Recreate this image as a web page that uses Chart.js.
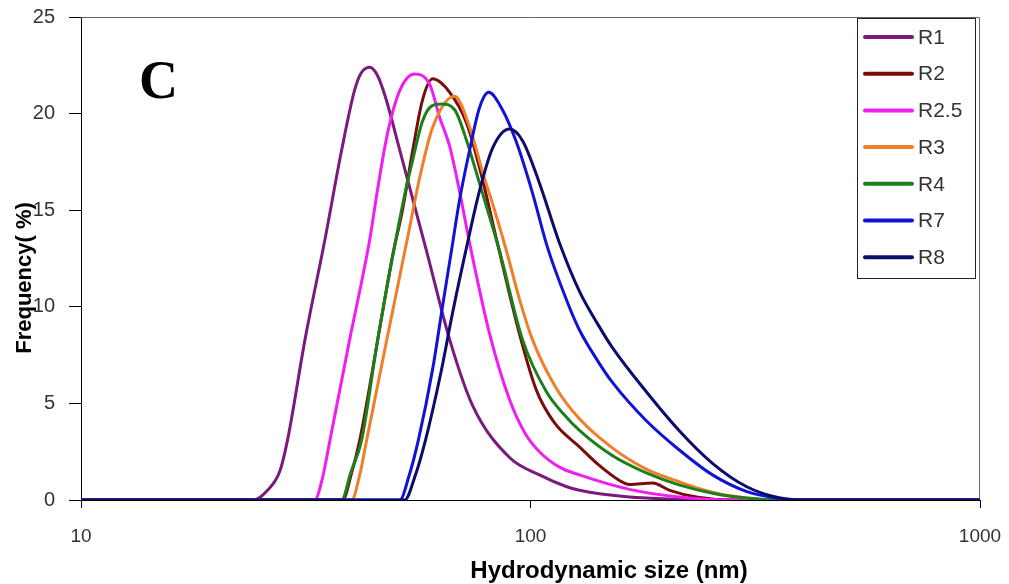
<!DOCTYPE html>
<html>
<head>
<meta charset="utf-8">
<script src="https://cdn.jsdelivr.net/npm/chart.js@4.4.0/dist/chart.umd.min.js"></script>
<style>
  html, body { margin: 0; padding: 0; background: #fff; }
</style>
</head>
<body>
<canvas id="sizeChart" width="1009" height="584"></canvas>
<script>
// Values (size in nm, frequency in %)
const seriesNames = ['R1', 'R2', 'R2.5', 'R3', 'R4', 'R7', 'R8'];
const seriesColors = ['#7a1a7c', '#7b0c0c', '#f01ef0', '#f07f2c', '#1c7f1c', '#1212d6', '#0c0c6c'];

const r1Size = [10, 24.2, 26.0, 27.7, 28.8, 31.5, 34.9, 38.0, 40.6, 42.0, 43.9, 45.6, 47.5, 51.2, 58.7, 66.1, 74.3, 89.8, 104.7, 120, 128.5, 166, 214, 277, 1000];
const r1Freq = [0, 0, 0.5, 1.5, 3.1, 8.3, 13.5, 18.1, 21.2, 22.1, 22.4, 22.0, 20.9, 18.1, 12.9, 8.3, 4.9, 2.2, 1.3, 0.7, 0.5, 0.15, 0.04, 0, 0];

const r2Size = [10, 38.2, 40.0, 41.7, 45.5, 49.3, 51.9, 54.7, 57.5, 60.6, 66.1, 72.1, 77.8, 84.0, 94.5, 103, 113, 128.5, 142, 158, 166, 187, 204, 234, 277, 1000];
const r2Freq = [0, 0, 1.4, 3.1, 8.0, 12.6, 15.0, 18.1, 20.7, 21.8, 21.1, 19.5, 16.8, 13.5, 8.6, 5.7, 4.0, 2.75, 1.8, 1.0, 0.8, 0.88, 0.5, 0.15, 0, 0];

const r25Size = [10, 33.1, 34.5, 35.8, 39.6, 43.9, 45.7, 48.1, 51.2, 55.2, 59.7, 62.8, 66.1, 69.5, 73.2, 81.1, 89.8, 97.0, 104.7, 116, 128.5, 166, 214, 277, 1000];
const r25Freq = [0, 0, 1.2, 3.1, 8.3, 13.5, 16.1, 19.0, 21.2, 22.05, 21.5, 19.8, 18.3, 16.0, 13.3, 8.6, 5.2, 3.5, 2.5, 1.7, 1.3, 0.55, 0.15, 0, 0];

const r3Size = [10, 40.0, 41.7, 43.2, 47.9, 53.3, 56.7, 60.6, 67.8, 73.2, 78.2, 83.2, 88.4, 94.5, 101, 114, 128.5, 152, 181, 214, 254, 302, 357, 1000];
const r3Freq = [0, 0, 1.3, 3.1, 8.3, 13.6, 16.7, 19.3, 20.9, 19.3, 17.0, 15.0, 12.9, 10.4, 8.3, 5.8, 4.2, 2.7, 1.6, 0.95, 0.4, 0.1, 0, 0];

const r4Size = [10, 38.0, 39.8, 42.1, 45.7, 49.9, 52.5, 54.7, 57.5, 60.3, 63.4, 67.8, 72.1, 77.0, 85.3, 96.0, 108.5, 119, 128.5, 152, 181, 214, 254, 302, 357, 1000];
const r4Freq = [0, 0, 1.4, 3.1, 8.3, 13.2, 15.8, 17.6, 19.6, 20.4, 20.5, 20.2, 18.6, 16.4, 12.9, 8.3, 5.6, 4.4, 3.6, 2.3, 1.4, 0.78, 0.35, 0.1, 0, 0];

const r7Size = [10, 51.2, 53.6, 56.3, 60.6, 63.7, 66.7, 69.5, 73.2, 77.0, 80.7, 86.6, 93.1, 101, 109, 121, 128.5, 142, 152, 181, 214, 254, 302, 357, 396, 1000];
const r7Freq = [0, 0, 1.2, 3.1, 6.8, 10.0, 12.9, 15.5, 18.1, 20.3, 21.1, 20.2, 18.5, 15.9, 13.1, 10.2, 8.8, 7.1, 6.1, 4.1, 2.6, 1.3, 0.45, 0.08, 0, 0];

const r8Size = [10, 52.5, 55.3, 58.4, 63.2, 67.1, 72.1, 77.0, 82.3, 89.8, 96.0, 104.7, 116, 128.5, 142, 152, 181, 214, 254, 302, 357, 417, 1000];
const r8Freq = [0, 0, 1.2, 3.1, 6.6, 9.7, 13.1, 16.0, 18.2, 19.2, 18.6, 16.4, 13.3, 10.8, 9.0, 7.9, 5.6, 3.6, 1.9, 0.7, 0.12, 0, 0];

const xTicks = [10, 100, 1000];
const yMin = 0, yMax = 25, yStep = 5;

const FONT = '"Liberation Sans", Arial, sans-serif';
const sizes = [r1Size, r2Size, r25Size, r3Size, r4Size, r7Size, r8Size];
const freqs = [r1Freq, r2Freq, r25Freq, r3Freq, r4Freq, r7Freq, r8Freq];

// turn the arrays into {x, y} points for the log x axis
function toPoints(xs, ys) {
    return xs.map((x, i) => ({ x: x, y: ys[i] }));
}

const datasets = seriesNames.map((name, i) => ({
    label: name,
    data: toPoints(sizes[i], freqs[i]),
    borderColor: seriesColors[i],
    borderWidth: 3,
    pointRadius: 0,
    fill: false,
    cubicInterpolationMode: 'monotone',
    order: seriesNames.length - i // last series (R8) ends up on top
}));

// frame, panel letter, axis titles and the boxed legend
const decorations = {
    id: 'decorations',
    beforeDatasetsDraw(chart) {
        const { ctx, chartArea: a } = chart;
        ctx.save();
        ctx.strokeStyle = '#666';
        ctx.lineWidth = 1;
        ctx.beginPath();
        ctx.moveTo(a.left, a.top + 0.5);
        ctx.lineTo(a.right - 0.5, a.top + 0.5);
        ctx.lineTo(a.right - 0.5, a.bottom);
        ctx.stroke();
        ctx.restore();
    },
    afterDraw(chart) {
        const ctx = chart.ctx;
        ctx.save();

        // panel letter
        ctx.fillStyle = '#000';
        ctx.font = 'bold 54px "Liberation Serif", "Times New Roman", serif';
        ctx.textAlign = 'left';
        ctx.textBaseline = 'alphabetic';
        ctx.fillText('C', 139, 98);

        // axis titles
        ctx.font = 'bold 24px ' + FONT;
        ctx.textAlign = 'center';
        ctx.fillText('Hydrodynamic size (nm)', 609, 578);
        ctx.save();
        ctx.translate(31, 278);
        ctx.rotate(-Math.PI / 2);
        ctx.font = 'bold 22px ' + FONT;
        ctx.fillText('Frequency( %)', 0, 0);
        ctx.restore();

        // legend box
        const bx = 857, by = 18, bw = 118, bh = 260;
        ctx.fillStyle = '#fff';
        ctx.fillRect(bx, by, bw, bh);
        ctx.strokeStyle = '#222';
        ctx.lineWidth = 1;
        ctx.strokeRect(bx + 0.5, by + 0.5, bw, bh);
        ctx.font = '21px ' + FONT;
        ctx.textAlign = 'left';
        ctx.textBaseline = 'middle';
        chart.data.datasets.forEach((ds, i) => {
            const y = 37 + i * 36.7;
            ctx.strokeStyle = ds.borderColor;
            ctx.lineWidth = 4;
            ctx.lineCap = 'round';
            ctx.beginPath();
            ctx.moveTo(865, y);
            ctx.lineTo(912, y);
            ctx.stroke();
            ctx.fillStyle = '#333';
            ctx.fillText(ds.label, 918, y + 1);
        });
        ctx.restore();
    }
};

const ctx = document.getElementById('sizeChart').getContext('2d');
const chart = new Chart(ctx, {
    type: 'line',
    data: { datasets: datasets },
    options: {
        responsive: false,
        animation: false,
        devicePixelRatio: 1,
        layout: { autoPadding: false, padding: { top: 17, right: 29, left: 0, bottom: 0 } },
        plugins: {
            legend: { display: false },
            tooltip: { enabled: false }
        },
        scales: {
            x: {
                type: 'logarithmic',
                min: 10,
                max: 1000,
                afterBuildTicks: scale => {
                    scale.ticks = xTicks.map(v => ({ value: v }));
                },
                afterFit: scale => {
                    scale.height = 84;
                    scale.paddingLeft = 0;   // keep the plot edges where the layout puts them
                    scale.paddingRight = 0;
                },
                ticks: {
                    autoSkip: false,
                    maxRotation: 0,
                    padding: 17,
                    color: '#333',
                    font: { size: 19, family: FONT },
                    callback: value => String(value)
                },
                grid: { drawOnChartArea: false, tickLength: 8, color: '#000' },
                border: { color: '#000', width: 1 }
            },
            y: {
                min: yMin,
                max: yMax,
                afterFit: scale => {
                    scale.width = 81;
                    scale.paddingTop = 0;
                    scale.paddingBottom = 0;
                },
                ticks: {
                    stepSize: yStep,
                    padding: 14,
                    color: '#333',
                    font: { size: 20, family: FONT }
                },
                grid: { drawOnChartArea: false, tickLength: 12, color: '#000' },
                border: { color: '#000', width: 1 }
            }
        }
    },
    plugins: [decorations]
});
</script>
</body>
</html>
